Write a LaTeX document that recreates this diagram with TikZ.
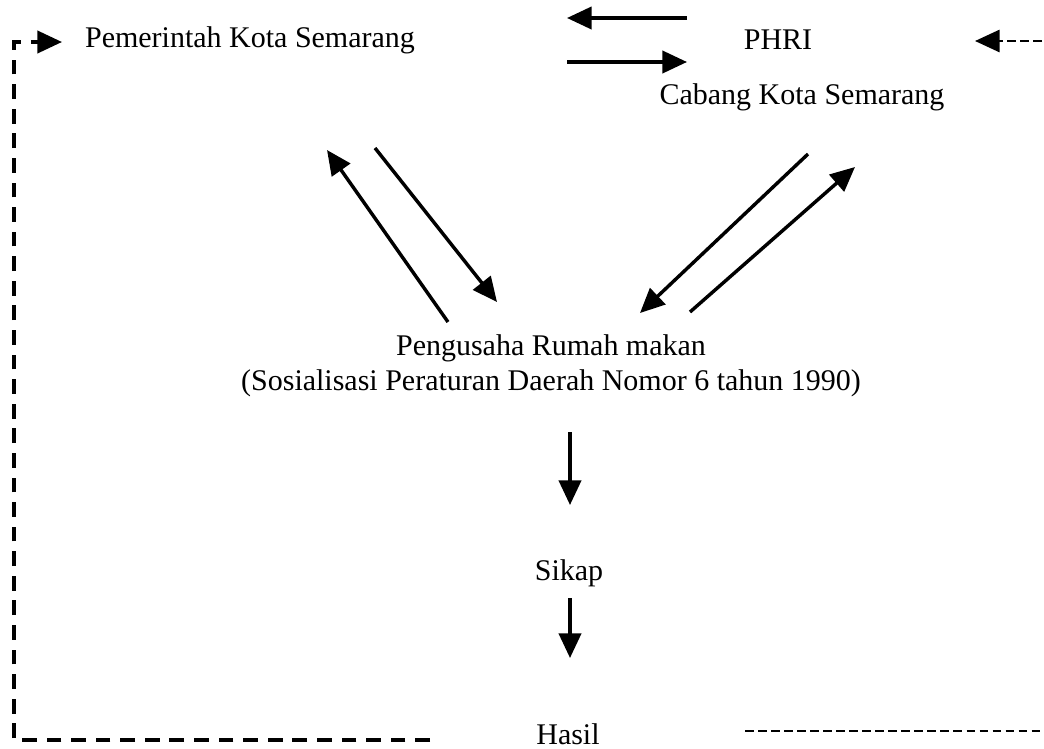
\documentclass[tikz,border=0pt]{standalone}
\usepackage{fontspec}
\setmainfont{Liberation Serif}
\usetikzlibrary{arrows.meta}

\begin{document}
\begin{tikzpicture}[x=0.01429cm,y=-0.01429cm,>={Triangle[length=10pt,width=9pt]},line width=1.4pt]
	\tikzset{lbl/.style={font=\fontsize{12.2}{14.2}\selectfont,inner sep=0pt,align=center},
		fbdash/.style={dash pattern=on 6pt off 4pt},
		thindash/.style={line width=1pt,dash pattern=on 3.5pt off 1.8pt}}
	\useasboundingbox (0,0) rectangle (1044,748);
	\node[lbl] (PK) at (250,40) {Pemerintah Kota Semarang};
	\node[lbl] (PH) at (778,40) {PHRI};
	\node[lbl] (CB) at (802,97) {Cabang Kota Semarang};
	\node[lbl] (PR) at (551,366) {Pengusaha Rumah makan\\(Sosialisasi Peraturan Daerah Nomor 6 tahun 1990)};
	\node[lbl] (SK) at (569,573) {Sikap};
	\node[lbl] (HS) at (568,734) {Hasil};

	% koordinat ujung panah
	\coordinate (t1) at (687,18);  \coordinate (t2) at (567,18);
	\coordinate (t3) at (567,62);  \coordinate (t4) at (687,62);
	\coordinate (a1) at (448,322); \coordinate (a2) at (327,150);
	\coordinate (a3) at (375,148); \coordinate (a4) at (497,302);
	\coordinate (b1) at (808,154); \coordinate (b2) at (640,313);
	\coordinate (b3) at (690,312); \coordinate (b4) at (855,167);
	\coordinate (d1) at (570,432); \coordinate (d2) at (570,505);
	\coordinate (d3) at (570,598); \coordinate (d4) at (570,658);
	\coordinate (lb) at (430,740); \coordinate (lc) at (14,740);
	\coordinate (lt) at (14,42);   \coordinate (la) at (62,42);
	\coordinate (ra) at (1042,41); \coordinate (rt) at (975,41);
	\coordinate (rb1) at (745,731); \coordinate (rb2) at (1042,731);

	\draw[->] (t1) -- (t2);
	\draw[->] (t3) -- (t4);
	\draw[->] (a1) -- (a2);
	\draw[->] (a3) -- (a4);
	\draw[->] (b1) -- (b2);
	\draw[->] (b3) -- (b4);
	\draw[->] (d1) -- (d2);
	\draw[->] (d3) -- (d4);

	\draw[fbdash,->] (lb) -- (lc) -- (lt) -- (la);
	\draw[thindash,->] (ra) -- (rt);
	\draw[thindash] (rb1) -- (rb2);
\end{tikzpicture}
\end{document}
